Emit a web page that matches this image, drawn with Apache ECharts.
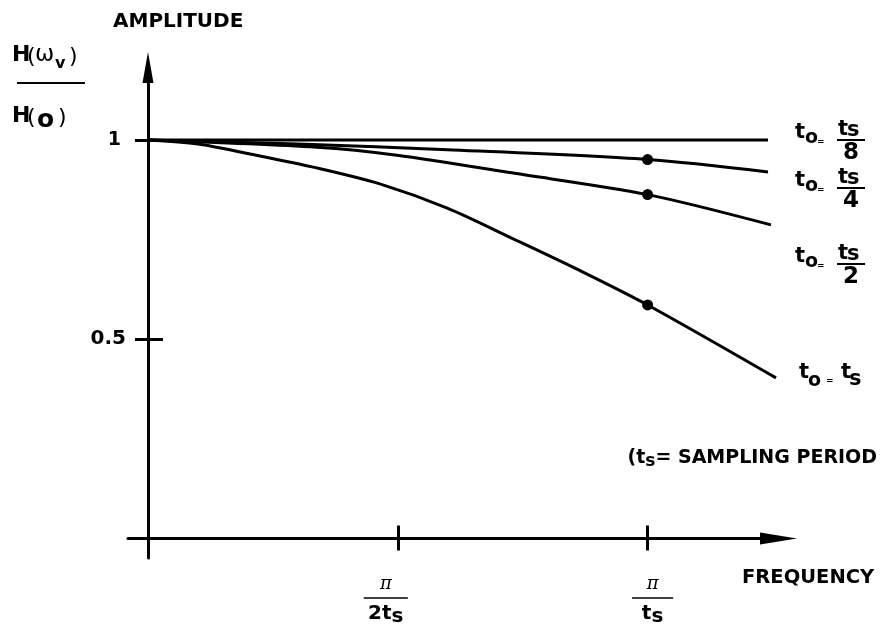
<!DOCTYPE html>
<html><head><meta charset="utf-8">
<script src="https://cdn.jsdelivr.net/npm/echarts@6/dist/echarts.min.js"></script>
<style>html,body{margin:0;padding:0;background:#fff}#c{width:888px;height:626px}</style>
</head><body><div id="c"></div>
<script>
// x is frequency in units of pi/ts ; y is H(w)/H(0)
const curveTs8X = [0, 1.241];
const curveTs8Y = [1.0, 1.0];
const curveTs4X = [0, 0.3, 0.611, 1.0, 1.241];
const curveTs4Y = [1.0, 0.99, 0.975, 0.951, 0.920];
const curveTs2X = [0, 0.338, 0.498, 0.731, 1.0, 1.247];
const curveTs2Y = [1.0, 0.982, 0.962, 0.917, 0.863, 0.787];
const curveTsX = [0, 0.1, 0.204, 0.338, 0.464, 0.599, 0.731, 0.865, 1.0, 1.257];
const curveTsY = [1.0, 0.99, 0.965, 0.93, 0.89, 0.829, 0.752, 0.672, 0.586, 0.403];
const dotX = [1.0, 1.0, 1.0];
const dotY = [0.951, 0.863, 0.586];
const xTickValues = [0.5, 1];
const xTickDenoms = ['2t', 't'];
const yTickValues = [0.5, 1];
const yTickLabels = ['0.5', '1'];

const FONT = 'DejaVu Sans';
function pairs(xs, ys) { return xs.map(function (x, i) { return [x, ys[i]]; }); }
function T(x, y, text, o) {
  return { type: 'text', x: x, y: y, silent: true, z: 10,
    style: Object.assign({ text: text, fill: '#000', fontFamily: FONT, fontWeight: 'bold', fontSize: 21, align: 'left', verticalAlign: 'middle' }, o || {}) };
}
function L(x1, y1, x2, y2, w) {
  return { type: 'line', silent: true, z: 10, shape: { x1: x1, y1: y1, x2: x2, y2: y2 }, style: { stroke: '#000', lineWidth: w || 2 } };
}
function fracLabel(ax, ay, den) {
  return [
    T(ax - 42, ay - 7, 't'),
    T(ax - 32, ay - 2, 'o', { fontSize: 19 }),
    T(ax - 20, ay + 2, '=', { fontSize: 9 }),
    T(ax + 1, ay - 10, 't'),
    T(ax + 10, ay - 9, 's'),
    L(ax, ay, ax + 28, ay, 2),
    T(ax + 14, ay + 13, den, { align: 'center', fontSize: 23 })
  ];
}

const lineStyleBase = { color: '#000', width: 3 };
const graphics = [].concat(
  [
    T(113, 22, 'AMPLITUDE', { fontSize: 20 }),
    T(12, 55, 'H', { fontSize: 22 }),
    T(27, 57, '(', { fontWeight: 'normal', fontSize: 22 }),
    T(35, 55, '\u03c9', { fontWeight: 'normal', fontSize: 23 }),
    T(55, 64, 'v', { fontSize: 16 }),
    T(69, 57, ')', { fontWeight: 'normal', fontSize: 22 }),
    L(17, 83, 85, 83, 2),
    T(12, 116.5, 'H', { fontSize: 22 }),
    T(27, 118, '(', { fontWeight: 'normal', fontSize: 22 }),
    T(37, 120, 'o', { fontSize: 25 }),
    T(58, 118, ')', { fontWeight: 'normal', fontSize: 22 }),
    T(742, 578, 'FREQUENCY', { fontSize: 19.5 }),
    { type: 'text', x: 877, y: 458, silent: true, z: 10,
      style: { text: '{a|(t}{s|s}{a|= SAMPLING PERIOD}', align: 'right', verticalAlign: 'middle', fill: '#000',
        rich: {
          a: { fontFamily: FONT, fontWeight: 'bold', fontSize: 19, fill: '#000', lineHeight: 22 },
          s: { fontFamily: FONT, fontWeight: 'bold', fontSize: 17, fill: '#000', lineHeight: 22, padding: [8, 0, 0, 0] }
        } } },
    T(799, 373, 't'),
    T(808, 381, 'o', { fontSize: 19 }),
    T(826, 381, '=', { fontSize: 9 }),
    T(841, 373, 't'),
    T(849, 380, 's')
  ],
  fracLabel(837, 140, '8'),
  fracLabel(837, 188, '4'),
  fracLabel(837, 264, '2')
);

const denStyle = { fontFamily: FONT, fontWeight: 'bold', fontSize: 20, color: '#000', lineHeight: 22 };
const chart = echarts.init(document.getElementById('c'), null, { renderer: 'canvas' });
chart.setOption({
  animation: false,
  backgroundColor: '#fff',
  grid: { left: 128, right: 109.5, top: 67.5, bottom: 68, containLabel: false, outerBoundsMode: 'none' },
  xAxis: [
    { type: 'value', min: -0.04, max: 1.262, position: 'bottom',
      axisLine: { show: true, onZero: true, onZeroAxisIndex: 0, symbol: ['none', 'triangle'], symbolSize: [12, 37], lineStyle: { color: '#000', width: 3 } },
      axisTick: { show: true, customValues: xTickValues, length: 12, lineStyle: { color: '#000', width: 3 } },
      axisLabel: {
        show: true, customValues: xTickValues, margin: 17, color: '#000',
        formatter: function (v) {
          const i = xTickValues.indexOf(v);
          const d = xTickDenoms[i];
          if (i === 0) return '{pi|\u03c0}{spA|}\n{hrA|}{spA|}\n{den|' + d + '}{sub|s}{spA|}';
          return '{spB|}{pi|\u03c0}\n{spB|}{hrB|}\n{spB|}{den|' + d + '}{sub|s}';
        },
        rich: {
          pi: { fontFamily: 'DejaVu Serif', fontStyle: 'italic', fontSize: 18, color: '#000', lineHeight: 18 },
          spA: { width: 24, height: 1, lineHeight: 8 },
          spB: { width: 10, height: 1, lineHeight: 8 },
          hrA: { width: 44, height: 0, borderWidth: 1, borderColor: '#000', lineHeight: 10 },
          hrB: { width: 41, height: 0, borderWidth: 1, borderColor: '#000', lineHeight: 10 },
          den: denStyle,
          sub: Object.assign({}, denStyle, { padding: [6, 0, 0, 0] })
        }
      },
      splitLine: { show: false } },
    { type: 'value', min: -0.04, max: 1.262, position: 'bottom',
      axisLine: { show: true, onZero: true, onZeroAxisIndex: 0, lineStyle: { color: '#000', width: 0, opacity: 0 } },
      axisTick: { show: true, inside: true, customValues: xTickValues, length: 13, lineStyle: { color: '#000', width: 3 } },
      axisLabel: { show: false }, splitLine: { show: false } }
  ],
  yAxis: [
    { type: 'value', min: -0.049, max: 1.182, position: 'left',
      axisLine: { show: true, onZero: true, onZeroAxisIndex: 0, symbol: ['none', 'triangle'], symbolSize: [11, 31], lineStyle: { color: '#000', width: 3 } },
      axisTick: { show: true, customValues: yTickValues, length: 13, lineStyle: { color: '#000', width: 3 } },
      axisLabel: {
        show: true, customValues: yTickValues, margin: 2, color: '#000',
        formatter: function (v) {
          const i = yTickValues.indexOf(v);
          return (v === 1 ? '{one|' : '{n|') + yTickLabels[i] + '}';
        },
        rich: {
          n: { fontFamily: FONT, fontWeight: 'bold', fontSize: 20, color: '#000' },
          one: { fontFamily: FONT, fontWeight: 'bold', fontSize: 19, color: '#000', padding: [0, 5, 0, 0] }
        }
      },
      splitLine: { show: false } },
    { type: 'value', min: -0.049, max: 1.182, position: 'left',
      axisLine: { show: true, onZero: true, onZeroAxisIndex: 0, lineStyle: { color: '#000', width: 0, opacity: 0 } },
      axisTick: { show: true, inside: true, customValues: [yTickValues[0]], length: 15, lineStyle: { color: '#000', width: 3 } },
      axisLabel: { show: false }, splitLine: { show: false } }
  ],
  series: [
    { type: 'line', name: 't0=ts/8', data: pairs(curveTs8X, curveTs8Y), symbol: 'none', silent: true, lineStyle: { color: '#000', width: 3 } },
    { type: 'line', name: 't0=ts/4', data: pairs(curveTs4X, curveTs4Y), symbol: 'none', smooth: 0.3, silent: true, lineStyle: lineStyleBase },
    { type: 'line', name: 't0=ts/2', data: pairs(curveTs2X, curveTs2Y), symbol: 'none', smooth: 0.3, silent: true, lineStyle: lineStyleBase },
    { type: 'line', name: 't0=ts', data: pairs(curveTsX, curveTsY), symbol: 'none', smooth: 0.3, silent: true, lineStyle: lineStyleBase },
    { type: 'scatter', name: 'dots', data: pairs(dotX, dotY), symbolSize: 11, silent: true, itemStyle: { color: '#000', opacity: 1 }, z: 5 }
  ],
  graphic: graphics
});
</script>
</body></html>
